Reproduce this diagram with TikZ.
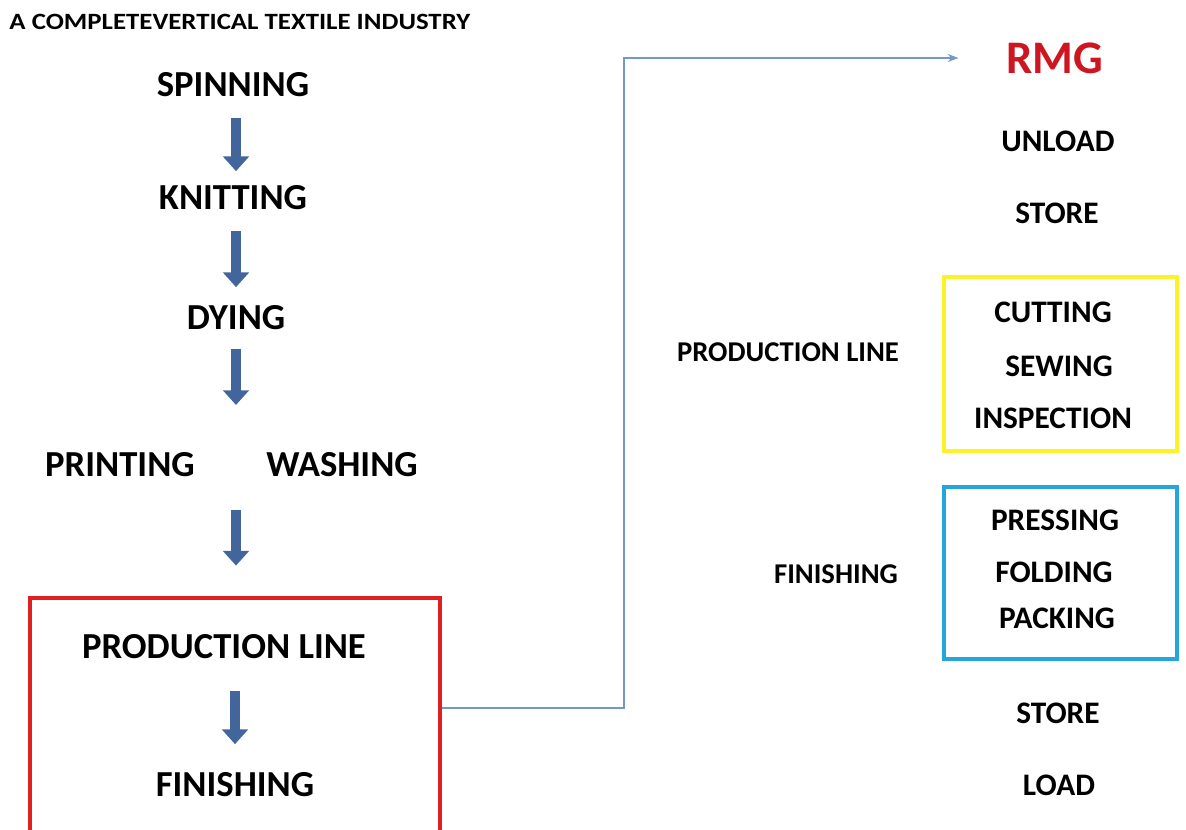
\documentclass[tikz,border=0pt]{standalone}
\usepackage{fontspec}
\setmainfont{Carlito}
\usetikzlibrary{arrows.meta}

\definecolor{arrowblue}{RGB}{66,102,156}
\definecolor{linkblue}{RGB}{115,152,200}
\definecolor{boxred}{RGB}{222,32,32}
\definecolor{boxyellow}{RGB}{252,242,40}
\definecolor{boxblue}{RGB}{38,165,220}
\definecolor{rmgred}{RGB}{206,22,32}

\tikzset{every picture/.style={line width=0.75pt},
  stage/.style={font=\bfseries\fontsize{27.5}{32}\selectfont, inner sep=0.75pt},
  sidelabel/.style={font=\bfseries\fontsize{21.5}{25}\selectfont, inner sep=0.75pt},
  substage/.style={font=\bfseries\fontsize{23.5}{27}\selectfont, inner sep=0.75pt},
  flow/.style={draw=arrowblue, line width=7.5pt, -{Triangle[width=19pt,length=11pt]}},
  link/.style={draw=linkblue, line width=1.1pt, -{Stealth[length=8pt,width=6pt]}}}

\begin{document}
\begin{tikzpicture}[x=0.75pt,y=0.75pt,yscale=-1,xscale=1]
\useasboundingbox (0,0) rectangle (1186,830); %set diagram to the size of the page

% Text Node
\draw (8,22) node [anchor=west][inner sep=0.75pt][font=\bfseries\fontsize{17.5}{20}\selectfont] (title) {\scalebox{1.15}[1]{A COMPLETEVERTICAL TEXTILE INDUSTRY}};

%Left column
\node [stage] (spin) at (233,85) {SPINNING};
\node [stage] (knit) at (233,198) {KNITTING};
\node [stage] (dye) at (236,318) {DYING};
\node [stage] (print) at (120,465) {PRINTING};
\node [stage] (wash) at (342,465) {WASHING};
\coordinate (pw) at (236,465);

%Shape: Rectangle (red box)
\node [draw=boxred, line width=2.6pt, minimum width=307.5pt, minimum height=177pt, inner sep=0pt] (redbox) at (235,716) {};
\node [stage] (prod) at (224,647) {PRODUCTION LINE};
\node [stage] (fin) at (235,785) {FINISHING};

%Block arrows
\draw [flow, shorten <=14.4pt, shorten >=9.9pt] (spin.south -| dye) -- (knit.north -| dye);
\draw [flow, shorten <=14.4pt, shorten >=12.9pt] (knit.south -| dye) -- (dye);
\draw [flow, shorten <=12.9pt, shorten >=45pt] (dye) -- (pw);
\draw [flow, shorten <=33.75pt, shorten >=23pt] (pw) -- (pw |- redbox.north);
\draw [flow, shorten <=22.6pt, shorten >=20.4pt] (fin |- prod.south) -- (fin);

%Right column
\node [font=\bfseries\fontsize{35}{40}\selectfont, text=rmgred, inner sep=0.75pt] (rmg) at (1055,58) {RMG};
\node [substage] (unload) at (1058,141) {UNLOAD};
\node [substage] (store1) at (1057,213) {STORE};
\node [sidelabel] (prodr) at (788,352) {PRODUCTION LINE};
\node [substage] (cut) at (1053,312) {CUTTING};
\node [substage] (sew) at (1059,366) {SEWING};
\node [substage] (insp) at (1053,418) {INSPECTION};
\node [sidelabel] (finr) at (836,574) {FINISHING};
\node [substage] (press) at (1055,520) {PRESSING};
\node [substage] (fold) at (1054,572) {FOLDING};
\node [substage] (pack) at (1057,618) {PACKING};
\node [substage] (store2) at (1058,713) {STORE};
\node [substage] (load) at (1059,785) {LOAD};

%Shape: Rectangle (yellow and blue boxes)
\node [draw=boxyellow, line width=3pt, minimum width=174.75pt, minimum height=130pt, inner sep=0pt] (prodbox) at (1060.5,364) {};
\node [draw=boxblue, line width=2.4pt, minimum width=174.75pt, minimum height=129pt, inner sep=0pt] (finbox) at (1060.5,573) {};

%Connector to RMG
\coordinate (bend) at (624,708);
\draw [link, shorten >=35pt] (redbox.east |- bend) -- (bend) |- (rmg.west);

\end{tikzpicture}
\end{document}
